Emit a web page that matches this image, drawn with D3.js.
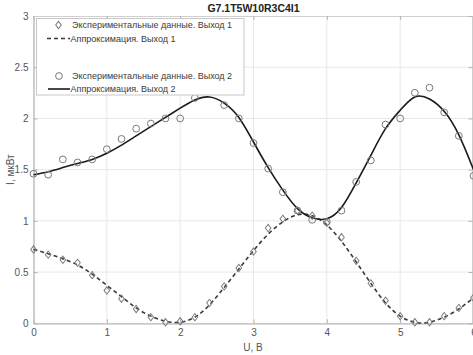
<!DOCTYPE html>
<html>
<head>
<meta charset="utf-8">
<script src="https://cdn.jsdelivr.net/npm/d3@7"></script>
<style>
  html, body { margin: 0; padding: 0; background: #ffffff; }
  svg { display: block; font-family: "Liberation Sans", Arial, sans-serif; }
</style>
</head>
<body>
<svg id="chart" width="473" height="355"></svg>
<script>
// Voltage grid (V) shared by every series
const voltage = d3.range(0, 31).map(i => +(i * 0.2).toFixed(1));

// Output 1: measured points and fitted curve (µW)
const measured1 = [0.72, 0.67, 0.62, 0.59, 0.47, 0.32, 0.24, 0.14, 0.06, 0.01,
                   0.02, 0.06, 0.20, 0.36, 0.54, 0.70, 0.93, 1.02, 1.10, 1.05,
                   0.98, 0.84, 0.61, 0.39, 0.22, 0.07, 0.01, 0.01, 0.07, 0.15, 0.25];
const fit1      = [0.72, 0.68, 0.63, 0.57, 0.48, 0.37, 0.26, 0.15, 0.07, 0.02,
                   0.01, 0.06, 0.18, 0.35, 0.53, 0.71, 0.87, 0.99, 1.06, 1.05,
                   0.96, 0.80, 0.60, 0.39, 0.20, 0.07, 0.01, 0.01, 0.06, 0.14, 0.25];

// Output 2: measured points and fitted curve (µW)
const measured2 = [1.46, 1.45, 1.60, 1.57, 1.60, 1.70, 1.80, 1.90, 1.95, 2.00,
                   2.00, 2.20, 2.27, 2.13, 2.00, 1.76, 1.51, 1.28, 1.10, 1.01,
                   0.99, 1.10, 1.38, 1.59, 1.94, 2.00, 2.25, 2.30, 2.06, 1.83, 1.44];
const fit2      = [1.45, 1.48, 1.52, 1.56, 1.60, 1.66, 1.74, 1.83, 1.92, 2.01,
                   2.10, 2.18, 2.21, 2.15, 2.01, 1.77, 1.52, 1.30, 1.12, 1.03,
                   1.02, 1.13, 1.37, 1.64, 1.90, 2.08, 2.21, 2.19, 2.07, 1.84, 1.50];

const xTicks = [0, 1, 2, 3, 4, 5, 6];
const yTicks = [0, 0.5, 1, 1.5, 2, 2.5, 3];

const titleText = "G7.1T5W10R3C4I1";
const xLabel = "U, В";
const yLabel = "I, мкВт";
const legendLabels = [
  "Экспериментальные данные. Выход 1",
  "Аппроксимация. Выход 1",
  "Экспериментальные данные. Выход 2",
  "Аппроксимация. Выход 2"
];

const svg = d3.select("#chart");
const plot = { left: 33.5, right: 473.5, top: 16, bottom: 323.3 };

const x = d3.scaleLinear().domain([0, 6]).range([plot.left, plot.right]);
const y = d3.scaleLinear().domain([0, 3]).range([plot.bottom, plot.top]);

const gridColor = "#e8e8e8";
const axisColor = "#b4b4b4";
const tickText = "#555555";
const markerColor = "#7a7a7a";

// Grid
const grid = svg.append("g");
grid.selectAll("line.vx").data(xTicks.slice(1, -1)).join("line")
  .attr("x1", d => x(d)).attr("x2", d => x(d))
  .attr("y1", plot.top).attr("y2", plot.bottom)
  .attr("stroke", gridColor).attr("stroke-width", 1);
grid.selectAll("line.hy").data(yTicks.slice(1, -1)).join("line")
  .attr("x1", plot.left).attr("x2", plot.right)
  .attr("y1", d => y(d)).attr("y2", d => y(d))
  .attr("stroke", gridColor).attr("stroke-width", 1);

// Axes (ticks point inward, box around the plot)
const xAxis = svg.append("g").attr("transform", `translate(0,${plot.bottom})`)
  .call(d3.axisBottom(x).tickValues(xTicks).tickFormat(d3.format("d")).tickSizeInner(-4).tickSizeOuter(0).tickPadding(6));
const yAxis = svg.append("g").attr("transform", `translate(${plot.left},0)`)
  .call(d3.axisLeft(y).tickValues(yTicks).tickFormat(d => String(d)).tickSizeInner(-4).tickSizeOuter(0).tickPadding(5));
const xAxisTop = svg.append("g").attr("transform", `translate(0,${plot.top})`)
  .call(d3.axisTop(x).tickValues(xTicks).tickFormat("").tickSizeInner(-4).tickSizeOuter(0));
const yAxisRight = svg.append("g").attr("transform", `translate(${plot.right - 1},0)`)
  .call(d3.axisRight(y).tickValues(yTicks).tickFormat("").tickSizeInner(-4).tickSizeOuter(0));

[xAxis, yAxis, xAxisTop, yAxisRight].forEach(g => {
  g.select(".domain").attr("stroke", axisColor).attr("stroke-width", 1.3);
  g.selectAll(".tick line").attr("stroke", axisColor).attr("stroke-width", 1);
  g.selectAll(".tick text").attr("fill", tickText).attr("font-size", 10)
    .attr("font-family", "'Liberation Sans', Arial, sans-serif");
});
xAxisTop.select(".domain").attr("stroke", "#d0d0d0").attr("stroke-width", 1);

// Lines
const pts = vals => vals.map((v, i) => [voltage[i], v]);
const line = d3.line().x(d => x(d[0])).y(d => y(d[1])).curve(d3.curveNatural);

svg.append("path").datum(pts(fit1))
  .attr("d", line).attr("fill", "none")
  .attr("stroke", "#3a3a3a").attr("stroke-width", 1.6)
  .attr("stroke-dasharray", "4,3");

svg.append("path").datum(pts(fit2))
  .attr("d", line).attr("fill", "none")
  .attr("stroke", "#1a1a1a").attr("stroke-width", 1.6);

// Markers: open diamonds for output 1, open circles for output 2
const diamondPath = d3.symbol().type(d3.symbolSquare).size(22)();
svg.append("g").selectAll("path").data(pts(measured1)).join("path")
  .attr("d", diamondPath)
  .attr("transform", d => `translate(${x(d[0])},${y(d[1])}) scale(0.85,1.1) rotate(45)`)
  .attr("fill", "none").attr("stroke", markerColor).attr("stroke-width", 1);

svg.append("g").selectAll("circle").data(pts(measured2)).join("circle")
  .attr("cx", d => x(d[0])).attr("cy", d => y(d[1])).attr("r", 3.4)
  .attr("fill", "none").attr("stroke", markerColor).attr("stroke-width", 1);

// Legend
const lg = svg.append("g");
lg.append("rect").attr("x", 36.5).attr("y", 18.5).attr("width", 207.5).attr("height", 76.5)
  .attr("fill", "#ffffff").attr("stroke", "#c8c8c8").attr("stroke-width", 1);

const rowY = [25, 38.5, 76, 89];
const textX = 72;
lg.append("path")
  .attr("d", diamondPath)
  .attr("transform", `translate(58.5,${rowY[0]}) scale(0.85,1.1) rotate(45)`)
  .attr("fill", "none").attr("stroke", markerColor).attr("stroke-width", 1);
lg.append("line").attr("x1", 47).attr("x2", 70).attr("y1", rowY[1]).attr("y2", rowY[1])
  .attr("stroke", "#3a3a3a").attr("stroke-width", 1.6).attr("stroke-dasharray", "4,3");
lg.append("circle").attr("cx", 59).attr("cy", rowY[2]).attr("r", 3.4)
  .attr("fill", "none").attr("stroke", markerColor).attr("stroke-width", 1);
lg.append("line").attr("x1", 48).attr("x2", 70).attr("y1", rowY[3]).attr("y2", rowY[3])
  .attr("stroke", "#1a1a1a").attr("stroke-width", 1.6);

lg.selectAll("text").data(legendLabels).join("text")
  .attr("x", (d, i) => (i % 2 === 0 ? textX : 70.5))
  .attr("y", (d, i) => rowY[i]).attr("dy", "0.35em")
  .attr("font-size", 9).attr("fill", "#3a3a3a")
  .text(d => d);

// Title and axis labels
svg.append("text").attr("x", (plot.left + plot.right) / 2).attr("y", 12)
  .attr("text-anchor", "middle").attr("font-size", 10.5).attr("font-weight", "bold")
  .attr("fill", "#222222").text(titleText);
svg.append("text").attr("x", (plot.left + plot.right) / 2 - 0.5).attr("y", 347)
  .attr("text-anchor", "middle").attr("dy", "0.35em").attr("font-size", 10)
  .attr("fill", tickText).text(xLabel);
svg.append("text").attr("transform", `translate(10,${(plot.top + plot.bottom) / 2}) rotate(-90)`)
  .attr("text-anchor", "middle").attr("dy", "0.35em").attr("font-size", 10)
  .attr("fill", tickText).text(yLabel);
</script>
</body>
</html>
